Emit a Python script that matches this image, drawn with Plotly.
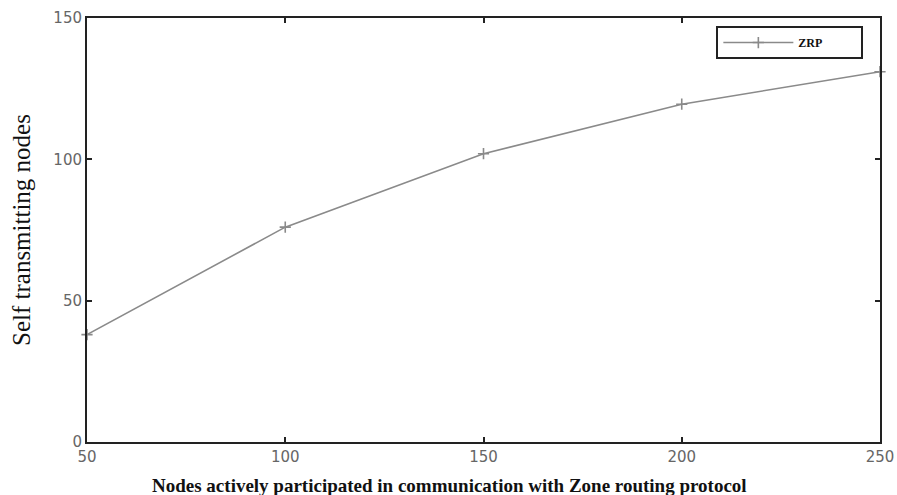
import plotly.graph_objects as go

nodes = [50, 100, 150, 200, 250]
self_tx = [38, 76, 102, 119.5, 131]
x_ticks = [50, 100, 150, 200, 250]
y_ticks = [0, 50, 100, 150]

fig = go.Figure()
fig.add_trace(go.Scatter(
    x=nodes, y=self_tx, mode="lines+markers", name="<b>ZRP</b>",
    line=dict(color="#8a8a8a", width=1.6),
    marker=dict(symbol="cross-thin", size=8,
                line=dict(color="#8a8a8a", width=1.6), color="#8a8a8a"),
    cliponaxis=False,
))

axis_common = dict(
    showgrid=False, zeroline=False, showline=True, linecolor="#222", linewidth=2,
    mirror="ticks", ticks="inside", ticklen=5, tickwidth=2, tickcolor="#222",
    tickfont=dict(family="DejaVu Sans", size=15, color="#666"),
    automargin=False,
)
fig.update_xaxes(range=[50, 250], tickvals=x_ticks, **axis_common)
fig.update_yaxes(range=[0, 150], tickvals=y_ticks, **axis_common)

fig.update_layout(
    width=897, height=495,
    margin=dict(l=87, r=17, t=18, b=53, autoexpand=False),
    plot_bgcolor="white", paper_bgcolor="white",
    showlegend=True,
    legend=dict(
        orientation="h",
        x=0.979, y=0.981, xanchor="right", yanchor="top",
        bgcolor="white", bordercolor="#222", borderwidth=2,
        font=dict(family="Liberation Serif", size=12, color="#111"),
        itemwidth=70, entrywidth=58, tracegroupgap=0,
    ),
    annotations=[
        dict(text="<b>Nodes actively participated in communication with Zone routing protocol</b>",
             xref="paper", yref="paper", x=(449 - 87) / 793, y=-(485 - 442) / 424,
             xanchor="center", yanchor="middle", showarrow=False,
             font=dict(family="Liberation Serif", size=19, color="#111")),
        dict(text="Self transmitting nodes", textangle=-90,
             xref="paper", yref="paper", x=-(87 - 21) / 793, y=0.5,
             xanchor="center", yanchor="middle", showarrow=False,
             font=dict(family="Liberation Serif", size=25, color="#111")),
    ],
)

fig.write_html("out.html", config={"displayModeBar": False},
               post_script="document.body.style.margin='0';document.body.style.overflow='hidden';")
